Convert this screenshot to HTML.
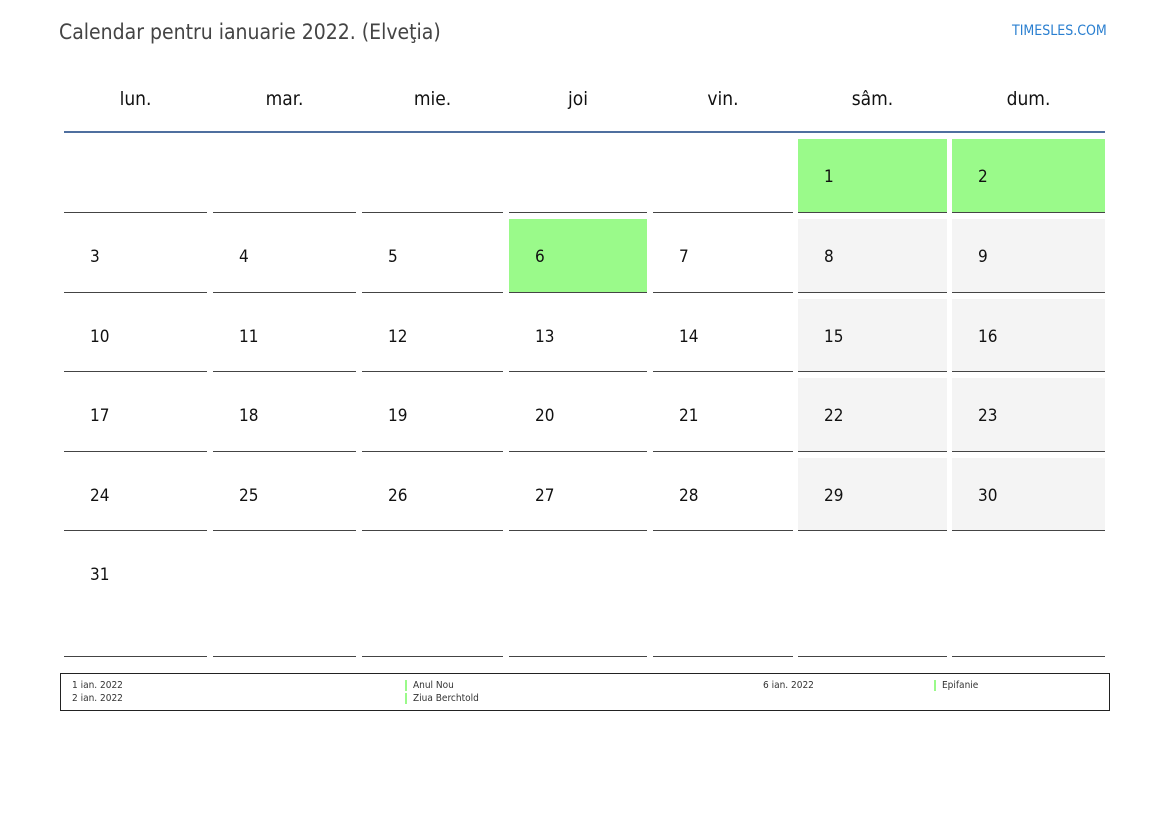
<!DOCTYPE html>
<html><head><meta charset="utf-8"><style>
body{margin:0;width:1169px;height:827px;background:#fff;font-family:"DejaVu Sans Condensed","DejaVu Sans","Liberation Sans",sans-serif;font-stretch:condensed;position:relative;overflow:hidden}
.a{position:absolute}
.h{position:absolute;top:88px;font-size:19px;color:#111;text-align:center}
.c{position:absolute;border-bottom:1.5px solid #444}
.n{position:absolute;font-size:17px;color:#111}
.f{position:absolute;font-size:10px;color:#333}
</style></head><body>
<div class="a" style="left:59px;top:20px;font-size:21px;color:#444">Calendar pentru ianuarie 2022. (Elveţia)</div>
<div class="a" style="left:1012px;top:23px;font-size:14px;color:#2a7fd0">TIMESLES.COM</div>
<div class="a" style="left:64px;top:131px;width:1041px;height:2px;background:#4f6f9f"></div>
<div id="g"></div>
<div class="a" style="left:60px;top:673px;width:1048px;height:36px;border:1.5px solid #222"></div>
<div class="f" style="left:72px;top:680px">1 ian. 2022</div>
<div class="f" style="left:72px;top:693px">2 ian. 2022</div>
<div class="a" style="left:405px;top:680px;width:2px;height:11px;background:#9afa8a"></div>
<div class="a" style="left:405px;top:693px;width:2px;height:11px;background:#9afa8a"></div>
<div class="f" style="left:413px;top:680px">Anul Nou</div>
<div class="f" style="left:413px;top:693px">Ziua Berchtold</div>
<div class="f" style="left:763px;top:680px">6 ian. 2022</div>
<div class="a" style="left:934px;top:680px;width:2px;height:11px;background:#9afa8a"></div>
<div class="f" style="left:942px;top:680px">Epifanie</div>
<script>
var cx=[64,213,362,509,653,798,952],ce=[207,356,503,647,793,947,1105];
var names=["lun.","mar.","mie.","joi","vin.","sâm.","dum."];
var rb=[213,293,372,452,531,657],rt=[139,219,299,378,458,537];
var h="";
for(var i=0;i<7;i++)h+='<div class="h" style="left:'+cx[i]+'px;width:'+(ce[i]-cx[i])+'px">'+names[i]+'</div>';
for(var r=0;r<6;r++)for(var c=0;c<7;c++){
 var d=r*7+c-4;
 var bg="transparent";
 if(d>=1&&d<=31){ if(d==1||d==2||d==6)bg="#9afa8a"; else if(c>=5)bg="#f4f4f4";}
 h+='<div class="c" style="left:'+cx[c]+'px;width:'+(ce[c]-cx[c])+'px;top:'+rt[r]+'px;height:'+(rb[r]-rt[r]-1)+'px;background:'+bg+'"></div>';
 if(d>=1&&d<=31){var cy=(r==5)?576:(rt[r]+rb[r])/2+2;h+='<div class="n" style="left:'+(cx[c]+26)+'px;top:'+(cy-11)+'px">'+d+'</div>';}
}
document.getElementById("g").innerHTML=h;
</script>
</body></html>
